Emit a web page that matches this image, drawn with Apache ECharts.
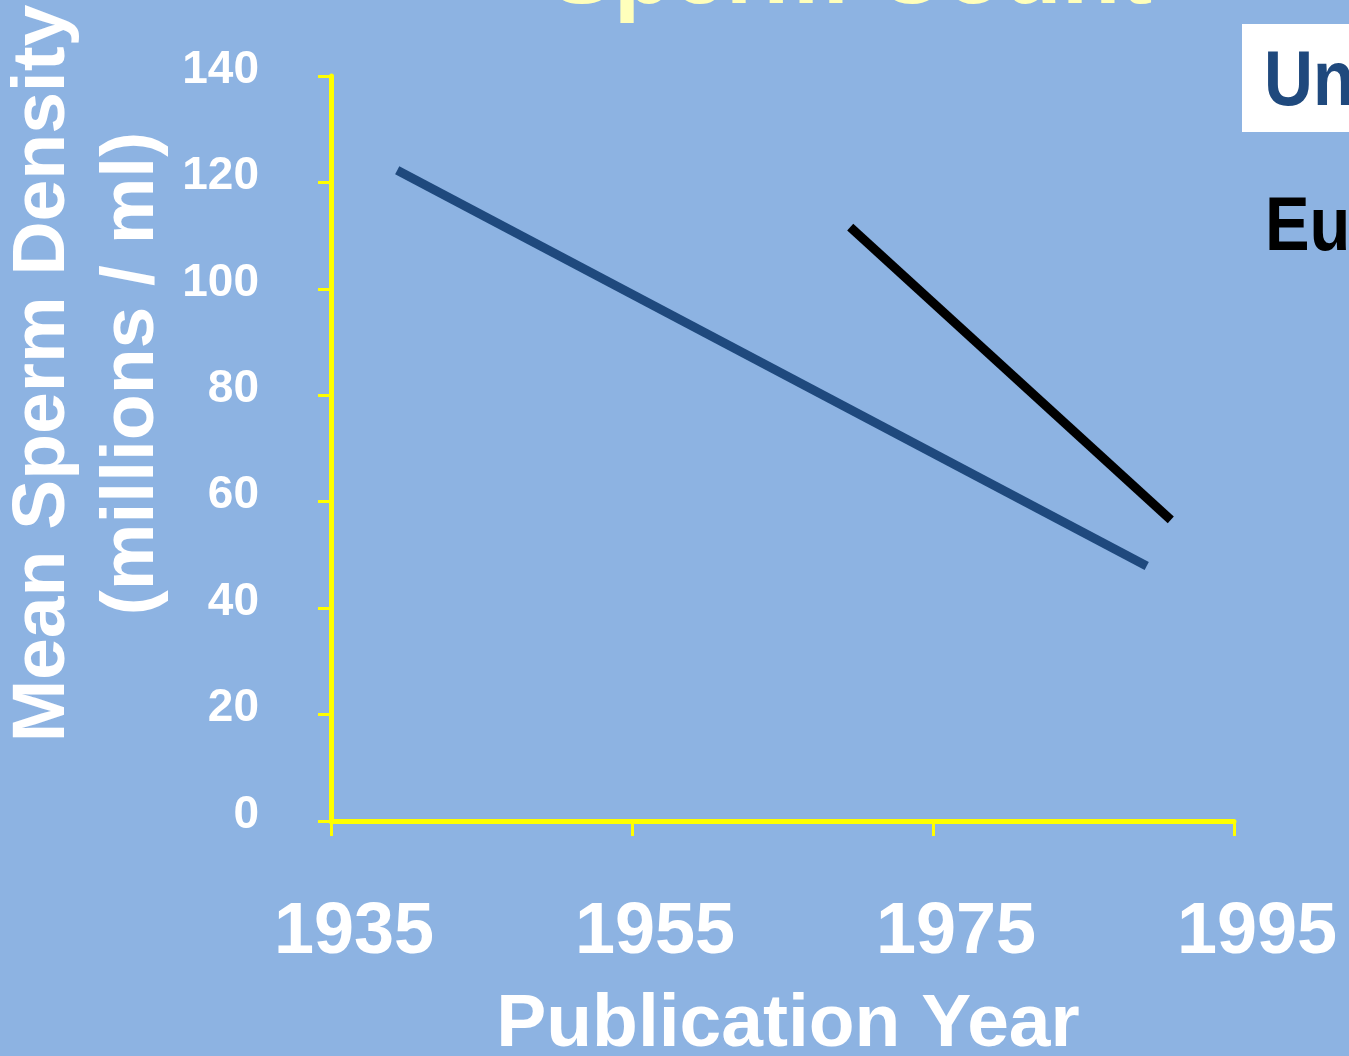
<!DOCTYPE html>
<html>
<head>
<meta charset="utf-8">
<script src="https://cdn.jsdelivr.net/npm/echarts@6/dist/echarts.min.js"></script>
<style>
  html, body { margin: 0; padding: 0; background: #8DB3E2; }
  #chart { width: 1349px; height: 1056px; }
</style>
</head>
<body>
<div id="chart"></div>
<script>
// Regression lines of mean sperm density against publication year
const chartTitle = 'Sperm Count';
const seriesNames = ['United States', 'Europe'];
const usYears = [1939.4, 1989.2];
const usDensity = [122.3, 47.9];
const euYears = [1969.5, 1990.8];
const euDensity = [111.6, 56.6];
const yearTicks = [1935, 1955, 1975, 1995];
const densityTicks = [0, 20, 40, 60, 80, 100, 120, 140];

const FONT = 'Liberation Sans, Arial, sans-serif';
const BG = '#8DB3E2';
const AXIS_YELLOW = '#FFFF00';
const US_BLUE = '#1F497D';

const pairs = (xs, ys) => xs.map((x, i) => [x, ys[i]]);

const chart = echarts.init(document.getElementById('chart'), null, { renderer: 'canvas' });

const option = {
  backgroundColor: BG,
  animation: false,
  title: {
    text: chartTitle,
    left: 851,
    top: -71,
    padding: 0,
    textAlign: 'center',
    textStyle: { color: '#FFFFBB', fontFamily: FONT, fontWeight: 'bold', fontSize: 96 }
  },
  grid: { left: 331, right: 115, top: 76, bottom: 235, outerBoundsMode: 'none' },
  xAxis: {
    type: 'value',
    min: yearTicks[0],
    max: yearTicks[yearTicks.length - 1],
    interval: yearTicks[1] - yearTicks[0],
    name: 'Publication Year',
    nameLocation: 'middle',
    nameGap: 167,
    nameMoveOverlap: false,
    nameTextStyle: {
      color: '#fff', fontFamily: FONT, fontWeight: 'bold', fontSize: 75,
      padding: [0, 0, 0, 11]
    },
    axisLine: { show: true, onZero: false, lineStyle: { color: AXIS_YELLOW, width: 5 } },
    axisTick: { show: true, length: 15, lineStyle: { color: AXIS_YELLOW, width: 3 } },
    axisLabel: {
      color: '#fff', fontFamily: FONT, fontWeight: 'bold', fontSize: 72,
      margin: 76, padding: [0, 0, 0, 46],
      formatter: v => String(v)
    },
    splitLine: { show: false }
  },
  yAxis: {
    type: 'value',
    min: densityTicks[0],
    max: densityTicks[densityTicks.length - 1],
    interval: densityTicks[1] - densityTicks[0],
    name: 'Mean Sperm Density\n(millions / ml)',
    nameLocation: 'middle',
    nameRotate: 90,
    nameGap: 154,
    nameMoveOverlap: false,
    nameTextStyle: {
      color: '#fff', fontFamily: FONT, fontWeight: 'bold', fontSize: 75,
      lineHeight: 89, align: 'center',
      padding: [0, 0, 0, 150]
    },
    axisLine: { show: true, onZero: false, lineStyle: { color: AXIS_YELLOW, width: 5 } },
    axisTick: { show: true, length: 13, lineStyle: { color: AXIS_YELLOW, width: 3 } },
    axisLabel: {
      color: '#fff', fontFamily: FONT, fontWeight: 'bold', fontSize: 46,
      margin: 72, verticalAlign: 'bottom', lineHeight: 12
    },
    splitLine: { show: false }
  },
  series: [
    {
      name: seriesNames[0],
      type: 'line',
      data: pairs(usYears, usDensity),
      showSymbol: false,
      lineStyle: { color: US_BLUE, width: 9, cap: 'butt' },
      itemStyle: { color: US_BLUE },
      z: 3
    },
    {
      name: seriesNames[1],
      type: 'line',
      data: pairs(euYears, euDensity),
      showSymbol: false,
      lineStyle: { color: '#000000', width: 9, cap: 'butt' },
      itemStyle: { color: '#000000' },
      z: 4
    }
  ],
  // Series key on the right edge
  graphic: [
    { type: 'rect', left: 1242, top: 24, shape: { width: 400, height: 108 }, style: { fill: '#FFFFFF' } },
    {
      type: 'text', x: 1264, y: 84, scaleX: 0.88,
      style: { text: seriesNames[0], fill: US_BLUE, font: 'bold 77px ' + FONT, textAlign: 'left', textVerticalAlign: 'middle' }
    },
    {
      type: 'text', x: 1265, y: 229, scaleX: 0.88,
      style: { text: seriesNames[1], fill: '#000000', font: 'bold 76px ' + FONT, textAlign: 'left', textVerticalAlign: 'middle' }
    }
  ]
};

chart.setOption(option);
</script>
</body>
</html>
